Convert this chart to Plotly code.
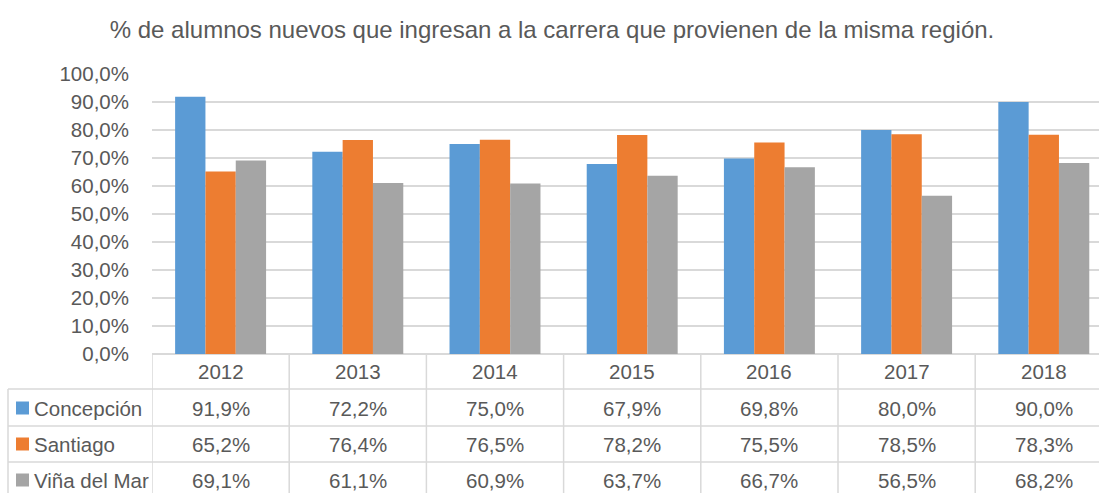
import plotly.graph_objects as go

years = ["2012", "2013", "2014", "2015", "2016", "2017", "2018"]
series_names = ["Concepción", "Santiago", "Viña del Mar"]
concepcion = [0.919, 0.722, 0.750, 0.679, 0.698, 0.800, 0.900]
santiago = [0.652, 0.764, 0.765, 0.782, 0.755, 0.785, 0.783]
vina = [0.691, 0.611, 0.609, 0.637, 0.667, 0.565, 0.682]
colors = ["#5B9BD5", "#ED7D31", "#A5A5A5"]
title_text = "% de alumnos nuevos que ingresan a la carrera que provienen de la misma región."

FONT = "Liberation Sans, Arial, sans-serif"
TXT = "#595959"
GRID = "#D9D9D9"
FS = 20.5

W, H = 1099, 493
L, T, B = 152, 74, 139
plot_h = H - T - B
plot_w = W - L
cat_w = 137.2

def py(pix):
    return (H - B - pix) / plot_h

def px(pix):
    return (pix - L) / plot_w

xs = list(range(len(years)))
all_series = [concepcion, santiago, vina]

fig = go.Figure()
for name, vals, col in zip(series_names, all_series, colors):
    fig.add_trace(go.Bar(x=xs, y=vals, name=name, marker=dict(color=col, line=dict(width=0)),
                         showlegend=False, hoverinfo="skip"))

shapes = []
annotations = []
# table horizontal lines
for yy in [389, 426, 462]:
    shapes.append(dict(type="line", xref="paper", yref="paper", x0=px(8), x1=1.05,
                       y0=py(yy), y1=py(yy), line=dict(color=GRID, width=1.5)))
# left vertical line of legend column
shapes.append(dict(type="line", xref="paper", yref="paper", x0=px(8), x1=px(8),
                   y0=py(389), y1=py(500), line=dict(color=GRID, width=1.5)))
# vertical category boundaries
for i in range(len(years) + 1):
    shapes.append(dict(type="line", xref="x", yref="paper", x0=i - 0.5, x1=i - 0.5,
                       y0=0, y1=py(500), line=dict(color=GRID, width=1.5)))

row_y = [371.5, 408, 444, 480]
for i, yr in enumerate(years):
    annotations.append(dict(x=i, y=py(row_y[0]), xref="x", yref="paper", text=yr,
                            showarrow=False, font=dict(family=FONT, size=FS, color=TXT),
                            xanchor="center", yanchor="middle"))
for r, (name, vals, col) in enumerate(zip(series_names, all_series, colors)):
    yv = py(row_y[r + 1])
    for i, v in enumerate(vals):
        annotations.append(dict(x=i, y=yv, xref="x", yref="paper",
                                text=f"{v*100:.1f}%".replace(".", ","),
                                showarrow=False, font=dict(family=FONT, size=FS, color=TXT),
                                xanchor="center", yanchor="middle"))
    annotations.append(dict(x=px(32), y=yv, xref="paper", yref="paper", text=name,
                            showarrow=False, font=dict(family=FONT, size=FS, color=TXT),
                            xanchor="left", yanchor="middle"))
    shapes.append(dict(type="rect", xref="paper", yref="paper", x0=px(16), x1=px(29),
                       y0=py(row_y[r + 1] + 6.5), y1=py(row_y[r + 1] - 6.5),
                       fillcolor=col, line=dict(width=0)))

fig.update_layout(
    width=W, height=H,
    margin=dict(l=L, r=0, t=T, b=B),
    paper_bgcolor="white", plot_bgcolor="white",
    separators=",.",
    barmode="group", bargap=0.337, bargroupgap=0,
    title=dict(text=title_text, x=552 / W, xanchor="center", y=1 - 30 / H, yanchor="middle",
               font=dict(family=FONT, size=24, color=TXT)),
    xaxis=dict(range=[-0.5, -0.5 + plot_w / cat_w], showticklabels=False, showgrid=False,
               zeroline=False, showline=False, ticks=""),
    yaxis=dict(range=[0, 1], dtick=0.1, tick0=0, tickformat=".1%", showgrid=True,
               gridcolor=GRID, gridwidth=1.5, zeroline=True, zerolinecolor=GRID, zerolinewidth=1.5,
               showline=False, ticks="", ticklabelstandoff=22,
               tickfont=dict(family=FONT, size=FS, color=TXT)),
    shapes=shapes, annotations=annotations,
)

fig.write_html("out.html", config={"displayModeBar": False},
               post_script="document.body.style.margin='0';document.body.style.overflow='hidden';")
